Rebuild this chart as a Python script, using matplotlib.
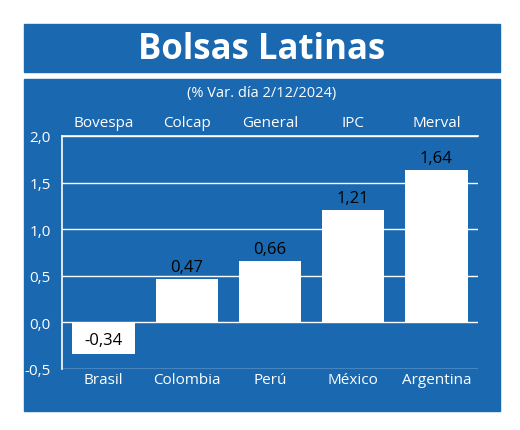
import matplotlib
matplotlib.use("Agg")
import matplotlib.pyplot as plt
from matplotlib.patches import Rectangle

plt.rcParams['font.family'] = ['Open Sans', 'DejaVu Sans']

countries = ["Brasil", "Colombia", "Perú", "México", "Argentina"]
indices = ["Bovespa", "Colcap", "General", "IPC", "Merval"]
values = [-0.34, 0.47, 0.66, 1.21, 1.64]
yticks = [-0.5, 0.0, 0.5, 1.0, 1.5, 2.0]

blue = "#1a68b0"
fig = plt.figure(figsize=(5.2, 4.31), dpi=100)
fig.patch.set_facecolor("white")
W, H = 520, 431
def fx(x): return x / W
def fy(y): return 1 - y / H
fig.patches.append(Rectangle((fx(24), fy(73)), fx(500) - fx(24), fy(25) - fy(73), transform=fig.transFigure, color=blue, zorder=-5))
fig.patches.append(Rectangle((fx(24), fy(412)), fx(500) - fx(24), fy(80) - fy(412), transform=fig.transFigure, color=blue, zorder=-5))
fig.text(fx(262), fy(50), "Bolsas Latinas", color="white", fontsize=25, fontweight="bold", ha="center", va="center")
fig.text(fx(262), fy(94), "(% Var. día 2/12/2024)", color="white", fontsize=10.5, ha="center", va="center")

ax = fig.add_axes([fx(62), fy(370), fx(478) - fx(62), fy(137) - fy(370)])
ax.set_zorder(5)
ax.set_facecolor(blue)
x = range(len(values))
ax.bar(x, values, width=0.75, color="white", zorder=3)
for i, v in enumerate(values):
    if v >= 0:
        ax.text(i, v + 0.04, f"{v:.2f}".replace(".", ","), ha="center", va="bottom", fontsize=12, color="black", zorder=4)
    else:
        ax.text(i, v / 2 - 0.02, f"{v:.2f}".replace(".", ","), ha="center", va="center", fontsize=12, color="black", zorder=4)
ax.set_ylim(-0.5, 2.0)
ax.set_xlim(-0.5, 4.5)
ax.set_yticks(yticks)
ax.set_yticklabels([f"{t:.1f}".replace(".", ",") for t in yticks], color="white", fontsize=11)
ax.tick_params(axis="y", length=0, pad=8)
ax.set_xticks(list(x))
ax.set_xticklabels(countries, color="white", fontsize=11)
ax.tick_params(axis="x", length=0, pad=2)
ax.grid(axis="y", color="white", linewidth=1, zorder=1)
for s in ["right", "bottom"]:
    ax.spines[s].set_visible(False)
ax.spines["left"].set_color("white")
ax.spines["top"].set_color("white")
ax.spines["left"].set_linewidth(1.2)
ax.spines["top"].set_linewidth(1.2)
for i, n in enumerate(indices):
    ax.text(i, 2.06, n, ha="center", va="bottom", color="white", fontsize=11)
fig.savefig("out.png", dpi=100)
